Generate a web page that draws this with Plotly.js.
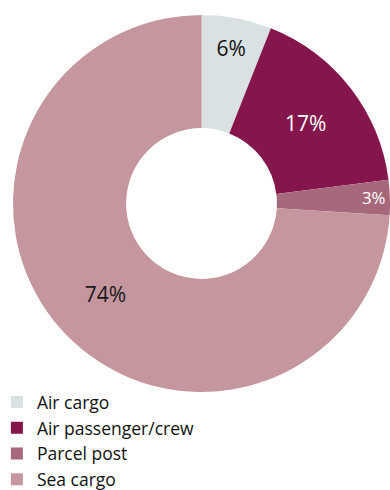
<!DOCTYPE html>
<html>
<head>
<meta charset="utf-8">
<script src="https://cdn.plot.ly/plotly-3.0.1.min.js"></script>
<style>html,body{margin:0;padding:0;background:#fff;}#chart{width:390px;height:490px;}</style>
</head>
<body>
<div id="chart"></div>
<script>
const categories = ["Air cargo", "Air passenger/crew", "Parcel post", "Sea cargo"];
const shares = [6, 17, 3, 74];
const sliceColors = ["#d9e1e3", "#85164b", "#a5697b", "#c5969e"];
const labelColors = ["#111111", "#ffffff", "#ffffff", "#1a1a1a"];

const trace = {
  type: "pie",
  labels: categories,
  values: shares,
  sort: false,
  direction: "clockwise",
  rotation: 0,
  hole: 0.4,
  marker: {colors: sliceColors, line: {width: 0}},
  texttemplate: "%{value}%",
  textposition: "inside",
  insidetextorientation: "horizontal",
  insidetextfont: {family: "Open Sans, sans-serif", size: 21, color: labelColors},
  domain: {x: [13/390, 1], y: [1 - 392/490, 1 - 15/490]},
  hoverinfo: "label+percent"
};

const layout = {
  width: 390,
  height: 490,
  margin: {l: 0, r: 0, t: 0, b: 0, autoexpand: false},
  paper_bgcolor: "#ffffff",
  showlegend: true,
  legend: {
    x: -0.008, y: 0.216, xanchor: "left", yanchor: "top",
    orientation: "v",
    font: {family: "Open Sans, sans-serif", size: 17.5, color: "#111111"},
    bgcolor: "rgba(0,0,0,0)",
    borderwidth: 0,
    traceorder: "normal"
  },
  font: {family: "Open Sans, sans-serif"}
};

Plotly.newPlot("chart", [trace], layout, {displayModeBar: false, staticPlot: true});
</script>
</body>
</html>
